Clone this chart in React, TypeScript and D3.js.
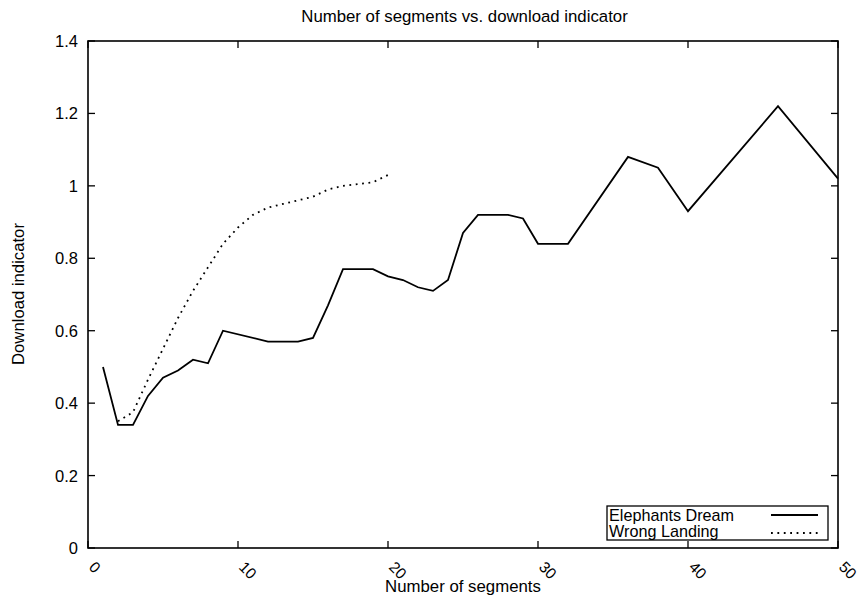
import React from "react";
import * as d3 from "d3";

const title = "Number of segments vs. download indicator";
const xLabel = "Number of segments";
const yLabel = "Download indicator";

const xTicks = [0, 10, 20, 30, 40, 50];
const yTicks = [0, 0.2, 0.4, 0.6, 0.8, 1, 1.2, 1.4];

const seriesNames = ["Elephants Dream", "Wrong Landing"];

const edX = [1, 2, 3, 4, 5, 6, 7, 8, 9, 12, 14, 15, 16, 17, 19, 20, 21, 22, 23, 24, 25, 26, 28, 29, 30, 32, 36, 38, 40, 46, 50];
const edY = [0.5, 0.34, 0.34, 0.42, 0.47, 0.49, 0.52, 0.51, 0.6, 0.57, 0.57, 0.58, 0.67, 0.77, 0.77, 0.75, 0.74, 0.72, 0.71, 0.74, 0.87, 0.92, 0.92, 0.91, 0.84, 0.84, 1.08, 1.05, 0.93, 1.22, 1.02];

const wlX = [2, 3, 4, 5, 6, 7, 8, 9, 10, 11, 12, 13, 14, 15, 16, 17, 18, 19, 20];
const wlY = [0.35, 0.375, 0.465, 0.55, 0.635, 0.71, 0.775, 0.84, 0.885, 0.92, 0.94, 0.95, 0.96, 0.97, 0.99, 1.0, 1.005, 1.01, 1.03];

const W = 859;
const H = 599;
const left = 88;
const right = 838;
const top = 41;
const bottom = 548;
const font = "'Liberation Sans', Arial, Helvetica, sans-serif";

export default function App() {
  const x = d3.scaleLinear().domain([0, 50]).range([left, right]);
  const y = d3.scaleLinear().domain([0, 1.4]).range([bottom, top]);
  const line = d3
    .line<[number, number]>()
    .x((d) => x(d[0]))
    .y((d) => y(d[1]));
  const ed: [number, number][] = edX.map((v, i) => [v, edY[i]]);
  const wl: [number, number][] = wlX.map((v, i) => [v, wlY[i]]);
  const tl = 7;

  return (
    <svg
      width={W}
      height={H}
      style={{ position: "absolute", left: 0, top: 0, background: "#fff" }}
      fontFamily={font}
    >
      <rect x={0} y={0} width={W} height={H} fill="#fff" />
      {/* ticks */}
      {yTicks.map((t) => (
        <g key={"y" + t}>
          <line x1={left} x2={left + tl} y1={y(t)} y2={y(t)} stroke="#000" strokeWidth={1.3} />
          <line x1={right} x2={right - tl} y1={y(t)} y2={y(t)} stroke="#000" strokeWidth={1.3} />
          <text x={78} y={y(t) + 6} textAnchor="end" fontSize={16.5} fill="#000">
            {String(t)}
          </text>
        </g>
      ))}
      {xTicks.map((t) => (
        <g key={"x" + t}>
          <line x1={x(t)} x2={x(t)} y1={bottom} y2={bottom - tl} stroke="#000" strokeWidth={1.3} />
          <line x1={x(t)} x2={x(t)} y1={top} y2={top + tl} stroke="#000" strokeWidth={1.3} />
          <text
            transform={`translate(${x(t)},${568}) rotate(45)`}
            textAnchor="start"
            fontSize={15.5}
            fill="#000"
          >
            {String(t)}
          </text>
        </g>
      ))}
      {/* series */}
      <path d={line(ed) || ""} fill="none" stroke="#000" strokeWidth={1.8} strokeLinejoin="miter" />
      <path
        d={line(wl) || ""}
        fill="none"
        stroke="#000"
        strokeWidth={1.8}
        strokeDasharray="1.8 4.6"
      />
      {/* frame */}
      <rect
        x={left}
        y={top}
        width={right - left}
        height={bottom - top}
        fill="none"
        stroke="#000"
        strokeWidth={1.6}
      />
      {/* legend */}
      <rect x={607} y={506} width={221} height={34} fill="#fff" stroke="#000" strokeWidth={1.3} />
      <text x={609} y={521} fontSize={16.2} fill="#000">
        {seriesNames[0]}
      </text>
      <text x={609} y={537} fontSize={16.2} fill="#000">
        {seriesNames[1]}
      </text>
      <line x1={771} x2={818} y1={515} y2={515} stroke="#000" strokeWidth={1.8} />
      <line x1={771} x2={818} y1={533} y2={533} stroke="#000" strokeWidth={1.8} strokeDasharray="1.8 4.6" />
      {/* labels */}
      <text x={464.5} y={21.5} textAnchor="middle" fontSize={16.8} fill="#000">
        {title}
      </text>
      <text x={463} y={591.5} textAnchor="middle" fontSize={16.8} fill="#000">
        {xLabel}
      </text>
      <text
        transform={`translate(24,294) rotate(-90)`}
        textAnchor="middle"
        fontSize={16.7}
        fill="#000"
      >
        {yLabel}
      </text>
    </svg>
  );
}
